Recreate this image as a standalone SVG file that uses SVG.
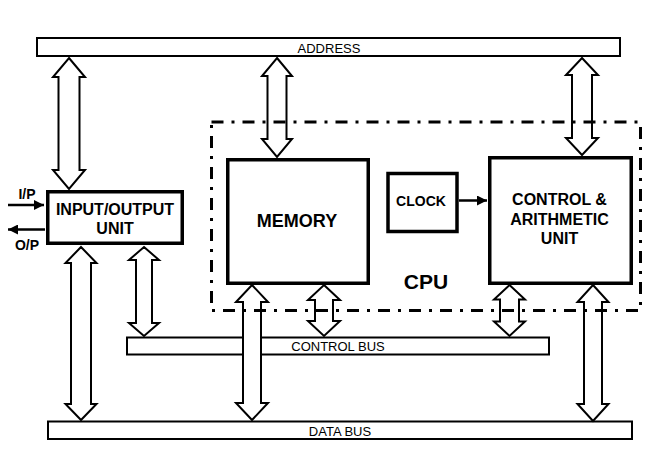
<svg xmlns="http://www.w3.org/2000/svg" width="651" height="454" viewBox="0 0 651 454">
<style>
.bus{fill:#fff;stroke:#000;stroke-width:2}
.arr{fill:#fff;stroke:#000;stroke-width:2;stroke-linejoin:miter}
.box{fill:#fff;stroke:#000;stroke-width:3.5}
.cpu{fill:none;stroke:#000;stroke-width:3;stroke-dasharray:12 8 3 8}
.bl{font-family:"Liberation Sans",Arial,sans-serif;font-size:13px;fill:#000;text-anchor:middle}
.nl{font-family:"Liberation Sans",Arial,sans-serif;font-weight:bold;font-size:16px;fill:#000;text-anchor:middle}
.sig{stroke:#000;stroke-width:2.5;fill:none}
</style>
<defs>
<marker id="ah" viewBox="0 0 10 10" refX="10" refY="5" markerWidth="10" markerHeight="10" markerUnits="userSpaceOnUse" orient="auto">
<path d="M0,0 L10,5 L0,10 Z" fill="#000"/>
</marker>
</defs>
<rect width="651" height="454" fill="#fff"/>
<g id="address-bus"><rect class="bus" x="37" y="38" width="583" height="18"/><text class="bl" x="329" y="52.5">ADDRESS</text></g>
<g id="control-bus"><rect class="bus" x="127" y="337.5" width="422" height="17"/><text class="bl" x="338" y="350.5">CONTROL BUS</text></g>
<g id="data-bus"><rect class="bus" x="48" y="421.5" width="584" height="17.5"/><text class="bl" x="340" y="435.5">DATA BUS</text></g>
<g id="connectors">
<path class="arr" d="M69,58 L85,77 L79.5,77 L79.5,170 L85,170 L69,189 L53,170 L58.5,170 L58.5,77 L53,77 Z"/>
<path class="arr" d="M277,58 L292,76 L286.5,76 L286.5,139 L292,139 L277,157 L262,139 L267.5,139 L267.5,76 L262,76 Z"/>
<path class="arr" d="M582,58 L598,75 L592,75 L592,138 L598,138 L582,155 L566,138 L572,138 L572,75 L566,75 Z"/>
<path class="arr" d="M81,247 L96.5,263 L91,263 L91,404 L96.5,404 L81,420 L65.5,404 L71,404 L71,263 L65.5,263 Z"/>
<path class="arr" d="M144,247 L159,260 L152,260 L152,323 L159,323 L144,336 L129,323 L136,323 L136,260 L129,260 Z"/>
<path class="arr" d="M252,285 L268,302 L261,302 L261,403 L268,403 L252,420 L236,403 L243,403 L243,302 L236,302 Z"/>
<path class="arr" d="M324,285 L340,300 L333,300 L333,321 L340,321 L324,336 L308,321 L315,321 L315,300 L308,300 Z"/>
<path class="arr" d="M509.5,285 L525,299.5 L519,299.5 L519,321.5 L525,321.5 L509.5,336 L494,321.5 L500,321.5 L500,299.5 L494,299.5 Z"/>
<path class="arr" d="M593,285 L608.5,302 L602,302 L602,404 L608.5,404 L593,421 L577.5,404 L584,404 L584,302 L577.5,302 Z"/>
<line class="sig" x1="8" y1="205" x2="44" y2="205" marker-end="url(#ah)"/>
<line class="sig" x1="45" y1="229.5" x2="8" y2="229.5" marker-end="url(#ah)"/>
<line class="sig" x1="459" y1="200.5" x2="487" y2="200.5" marker-end="url(#ah)"/>
</g>
<g id="cpu"><rect class="cpu" x="211.5" y="122" width="429" height="188.5"/><text class="nl" x="426" y="288.5" style="font-size:21px">CPU</text></g>
<g id="io-unit"><rect class="box" x="47.75" y="191.75" width="134.5" height="51.5"/><text class="nl" x="115" y="214.5">INPUT/OUTPUT</text><text class="nl" x="115" y="233.5">UNIT</text></g>
<g id="io-labels"><text class="nl" x="27" y="199" style="font-size:14px">I/P</text><text class="nl" x="27" y="250" style="font-size:14px">O/P</text></g>
<g id="memory"><rect class="box" x="227.75" y="159.75" width="140.5" height="123.5"/><text class="nl" x="297" y="226.5" style="font-size:18px">MEMORY</text></g>
<g id="clock"><rect class="box" x="388" y="173.5" width="69" height="58"/><text class="nl" x="421" y="206" style="font-size:14px">CLOCK</text></g>
<g id="control-arithmetic-unit"><rect class="box" x="489.75" y="157.75" width="141.5" height="125.5"/><text class="nl" x="559.5" y="205">CONTROL &amp;</text><text class="nl" x="559.5" y="224.5">ARITHMETIC</text><text class="nl" x="559.5" y="244">UNIT</text></g>
</svg>
